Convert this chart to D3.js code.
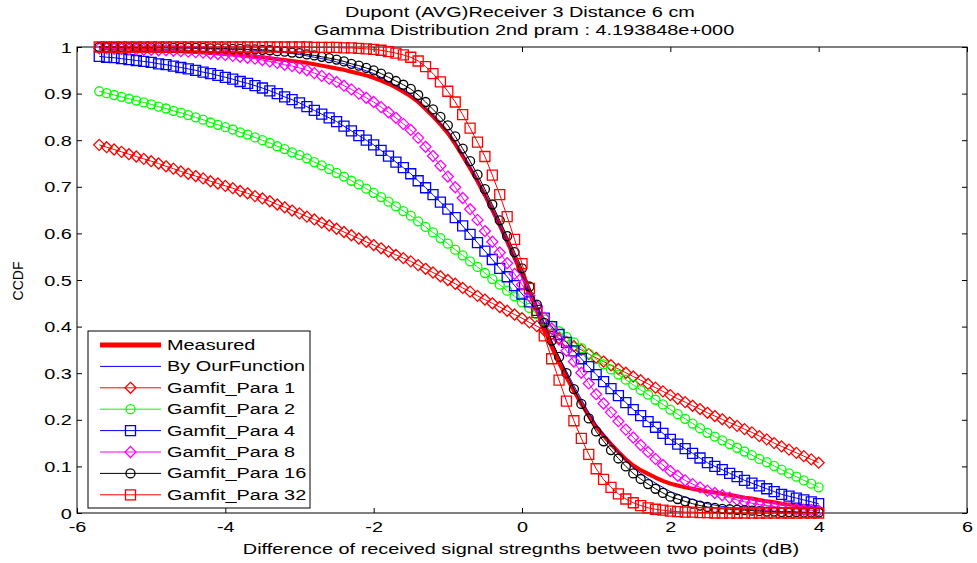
<!DOCTYPE html>
<html><head><meta charset="utf-8">
<script src="https://cdn.jsdelivr.net/npm/d3@7"></script>
<style>
body{margin:0;background:#fff}
svg{display:block;font-family:"Liberation Sans",Arial,sans-serif}
</style>
</head><body>
<svg id="chart" width="977" height="563"></svg>
<script>
// ---------------- data ----------------
const xValues = [
-5.7,-5.6,-5.5,-5.4,-5.3,-5.2,-5.1,-5.0,-4.9,-4.8,
-4.7,-4.6,-4.5,-4.4,-4.3,-4.2,-4.1,-4.0,-3.9,-3.8,
-3.7,-3.6,-3.5,-3.4,-3.3,-3.2,-3.1,-3.0,-2.9,-2.8,
-2.7,-2.6,-2.5,-2.4,-2.3,-2.2,-2.1,-2.0,-1.9,-1.8,
-1.7,-1.6,-1.5,-1.4,-1.3,-1.2,-1.1,-1.0,-0.9,-0.8,
-0.7,-0.6,-0.5,-0.4,-0.3,-0.2,-0.1,0.0,0.1,0.2,
0.3,0.4,0.5,0.6,0.7,0.8,0.9,1.0,1.1,1.2,
1.3,1.4,1.5,1.6,1.7,1.8,1.9,2.0,2.1,2.2,
2.3,2.4,2.5,2.6,2.7,2.8,2.9,3.0,3.1,3.2,
3.3,3.4,3.5,3.6,3.7,3.8,3.9,4.0];

const measured = [
.998,.998,.997,.997,.996,.995,.995,.994,.993,.992,
.992,.991,.990,.989,.988,.987,.986,.985,.984,.982,
.981,.979,.978,.976,.974,.972,.970,.968,.966,.963,
.960,.957,.954,.951,.947,.943,.939,.934,.928,.921,
.913,.904,.894,.882,.867,.851,.834,.815,.792,.766,
.740,.712,.682,.650,.617,.582,.547,.512,.473,.434,
.395,.357,.322,.291,.262,.234,.209,.185,.166,.148,
.131,.115,.102,.092,.084,.076,.069,.063,.059,.055,
.052,.049,.046,.044,.041,.039,.036,.033,.031,.028,
.025,.023,.020,.018,.017,.015,.014,.012];

const ourFunction = [
1.000,1.000,1.000,.999,.999,.999,.999,.999,.999,.998,
.998,.998,.998,.997,.997,.997,.996,.996,.995,.995,
.994,.993,.992,.991,.989,.988,.986,.984,.981,.978,
.975,.972,.968,.964,.959,.954,.949,.943,.935,.926,
.917,.908,.898,.884,.868,.852,.835,.818,.795,.770,
.743,.714,.683,.650,.616,.582,.547,.512,.475,.438,
.402,.368,.335,.304,.273,.244,.216,.190,.169,.149,
.131,.113,.097,.085,.074,.064,.055,.046,.040,.034,
.029,.024,.020,.017,.014,.012,.010,.008,.007,.006,
.005,.004,.003,.003,.002,.002,.001,.001];

const gamPara1 = [
.790,.785,.780,.775,.770,.765,.760,.755,.750,.744,
.739,.733,.728,.723,.718,.712,.707,.702,.697,.691,
.686,.680,.675,.669,.662,.656,.649,.643,.636,.630,
.623,.617,.610,.603,.596,.589,.582,.575,.568,.561,
.554,.547,.540,.532,.524,.516,.508,.500,.492,.483,
.475,.466,.458,.450,.442,.434,.426,.418,.409,.401,
.392,.384,.375,.367,.358,.350,.341,.333,.325,.317,
.309,.301,.293,.285,.277,.269,.261,.253,.245,.238,
.230,.223,.215,.208,.201,.194,.187,.180,.173,.165,
.158,.150,.143,.136,.129,.122,.115,.108];

const gamPara2 = [
.905,.901,.897,.893,.889,.885,.881,.877,.872,.868,
.863,.859,.854,.849,.844,.838,.833,.828,.823,.817,
.812,.806,.800,.794,.787,.781,.774,.768,.761,.753,
.746,.738,.730,.722,.713,.705,.696,.687,.678,.668,
.658,.648,.638,.626,.614,.602,.590,.578,.565,.553,
.540,.528,.515,.502,.490,.477,.465,.452,.440,.427,
.415,.402,.390,.378,.366,.354,.342,.330,.319,.308,
.297,.286,.275,.264,.254,.243,.233,.222,.212,.202,
.192,.182,.172,.164,.156,.148,.140,.132,.124,.116,
.109,.101,.093,.085,.078,.070,.063,.055];

const gamPara4 = [
.980,.978,.977,.975,.973,.971,.969,.967,.964,.962,
.959,.956,.953,.950,.946,.943,.939,.935,.931,.926,
.922,.917,.912,.906,.900,.893,.887,.880,.872,.864,
.856,.848,.840,.830,.820,.810,.800,.790,.778,.766,
.753,.741,.728,.713,.698,.683,.667,.652,.634,.616,
.598,.580,.562,.544,.525,.507,.488,.470,.453,.435,
.418,.400,.383,.366,.348,.331,.314,.297,.282,.267,
.252,.237,.222,.209,.196,.184,.171,.158,.148,.138,
.128,.118,.108,.100,.093,.085,.078,.070,.064,.058,
.052,.046,.040,.036,.032,.028,.024,.020];

const gamPara8 = [
.997,.997,.996,.996,.995,.995,.994,.994,.993,.993,
.992,.991,.990,.989,.988,.986,.985,.983,.981,.979,
.977,.975,.972,.969,.966,.962,.959,.955,.950,.944,
.938,.932,.925,.917,.909,.900,.891,.882,.871,.860,
.848,.835,.822,.805,.786,.766,.745,.722,.699,.676,
.652,.629,.605,.582,.559,.536,.513,.490,.466,.443,
.419,.396,.372,.348,.325,.301,.278,.255,.235,.216,
.197,.179,.162,.146,.131,.116,.103,.090,.080,.070,
.062,.055,.048,.043,.038,.033,.028,.024,.021,.018,
.016,.013,.011,.010,.008,.007,.006,.005];

const gamPara16 = [
1.000,1.000,1.000,1.000,.999,.999,.999,.999,.999,.999,
.998,.998,.998,.998,.998,.997,.997,.997,.996,.996,
.995,.995,.994,.993,.991,.990,.988,.987,.984,.982,
.979,.976,.973,.969,.964,.960,.955,.950,.943,.935,
.927,.919,.910,.897,.882,.866,.850,.832,.808,.782,
.755,.726,.695,.662,.628,.594,.560,.525,.486,.447,
.408,.370,.335,.300,.266,.234,.203,.175,.154,.135,
.117,.100,.085,.073,.062,.052,.043,.035,.030,.025,
.020,.016,.013,.011,.009,.008,.007,.006,.005,.004,
.003,.003,.002,.002,.002,.001,.001,.001];

const gamPara32 = [
1,1,1,1,1,1,1,1,1,1,
1,1,1,1,1,1,1,1,1,1,
1,1,1,1,1,1,1,1,1,.999,
.999,.999,.999,.998,.998,.997,.996,.995,.993,.990,
.987,.983,.978,.970,.958,.943,.925,.905,.882,.855,
.826,.796,.765,.725,.683,.636,.587,.535,.482,.430,
.380,.331,.285,.240,.198,.160,.126,.095,.072,.055,
.041,.030,.022,.016,.011,.008,.006,.004,.003,.002,
.002,.001,.001,0,0,0,0,0,0,0,
0,0,0,0,0,0,0,0];

const xTicks = [-6,-4,-2,0,2,4,6];
const yTicks = [0,0.1,0.2,0.3,0.4,0.5,0.6,0.7,0.8,0.9,1];
const titleLines = ["Dupont (AVG)Receiver 3 Distance 6 cm","Gamma Distribution 2nd pram : 4.193848e+000"];
const xLabel = "Difference of received signal stregnths between two points (dB)";
const yLabel = "CCDF";

const seriesList = [
  {name:"Measured",        values:measured,    color:"#ff0000", width:4, marker:null},
  {name:"By OurFunction",  values:ourFunction, color:"#0000ff", width:1, marker:null},
  {name:"Gamfit_Para 1",   values:gamPara1,    color:"#ff0000", width:1, marker:"diamond"},
  {name:"Gamfit_Para 2",   values:gamPara2,    color:"#00ff00", width:1, marker:"circle"},
  {name:"Gamfit_Para 4",   values:gamPara4,    color:"#0000ff", width:1, marker:"square"},
  {name:"Gamfit_Para 8",   values:gamPara8,    color:"#ff00ff", width:1, marker:"diamond"},
  {name:"Gamfit_Para 16",  values:gamPara16,   color:"#000000", width:1, marker:"circle"},
  {name:"Gamfit_Para 32",  values:gamPara32,   color:"#ff0000", width:1, marker:"square"}
];

// ---------------- layout ----------------
const STRETCH = 1.42;
const plot = {left:77, right:967, top:47, bottom:513};
const svg = d3.select("#chart");
const x = d3.scaleLinear().domain([-6,6]).range([plot.left, plot.right]);
const y = d3.scaleLinear().domain([0,1]).range([plot.bottom, plot.top]);

function markerPath(type){
  if(type==="diamond") return "M0,-5.5L5.5,0L0,5.5L-5.5,0Z";
  if(type==="square") return "M-5,-5H5V5H-5Z";
  if(type==="circle") return "M-4.5,0A4.5,4.5 0 1,0 4.5,0A4.5,4.5 0 1,0 -4.5,0Z";
  return "";
}
function stretchedText(g, tx, ty, str, anchor, size){
  return g.append("text")
    .attr("transform",`translate(${tx},${ty}) scale(${STRETCH},1)`)
    .attr("text-anchor",anchor).attr("font-size",size).attr("fill","#000")
    .text(str);
}

// axes (ticks inward, mirrored)
const fmt = d => String(d);
const gx = svg.append("g").attr("transform",`translate(0,${plot.bottom})`)
  .call(d3.axisBottom(x).tickValues(xTicks).tickFormat(fmt).tickSizeInner(-5).tickSizeOuter(0).tickPadding(8));
const gy = svg.append("g").attr("transform",`translate(${plot.left},0)`)
  .call(d3.axisLeft(y).tickValues(yTicks).tickFormat(fmt).tickSizeInner(-5).tickSizeOuter(0).tickPadding(3.6));
const gxt = svg.append("g").attr("transform",`translate(0,${plot.top})`)
  .call(d3.axisTop(x).tickValues(xTicks).tickFormat("").tickSizeInner(-5).tickSizeOuter(0));
const gyr = svg.append("g").attr("transform",`translate(${plot.right},0)`)
  .call(d3.axisRight(y).tickValues(yTicks).tickFormat("").tickSizeInner(-5).tickSizeOuter(0));
[gx,gy,gxt,gyr].forEach(g=>{
  g.select(".domain").remove();
  g.selectAll("line").attr("stroke","#000");
  g.selectAll("text").attr("font-size",14).attr("fill","#000")
    .attr("font-family","'Liberation Sans',Arial,sans-serif")
    .attr("transform",`scale(${STRETCH},1)`);
});
gx.selectAll("text").attr("dy","0.76em");
gy.selectAll("text").attr("dy","0.36em");

svg.append("rect").attr("x",plot.left).attr("y",plot.top)
  .attr("width",plot.right-plot.left).attr("height",plot.bottom-plot.top)
  .attr("fill","none").attr("stroke","#000").attr("stroke-width",1);

// series
const line = d3.line().x((d,i)=>x(xValues[i])).y(d=>y(d));
seriesList.forEach(s=>{
  const g = svg.append("g");
  g.append("path").attr("d",line(s.values)).attr("fill","none")
    .attr("stroke",s.color).attr("stroke-width",s.width).attr("stroke-linejoin","round");
  if(s.marker){
    g.selectAll("path.m").data(s.values).enter().append("path").attr("class","m")
      .attr("d",markerPath(s.marker))
      .attr("transform",(d,i)=>`translate(${x(xValues[i])},${y(d)})`)
      .attr("fill","none").attr("stroke",s.color).attr("stroke-width",1.3);
  }
});

// titles
stretchedText(svg, 520, 17, titleLines[0], "middle", 14);
stretchedText(svg, 524, 35, titleLines[1], "middle", 14);
stretchedText(svg, 521, 554, xLabel, "middle", 14);
svg.append("text").attr("transform","translate(23,281) rotate(-90)")
  .attr("text-anchor","middle").attr("font-size",14).attr("fill","#000").text(yLabel);

// legend
const leg = {x:88, y:331, w:222, h:177, rowY0:345, rowDy:21.4};
svg.append("rect").attr("x",leg.x).attr("y",leg.y).attr("width",leg.w).attr("height",leg.h)
  .attr("fill","#fff").attr("stroke","#000").attr("stroke-width",1);
seriesList.forEach((s,i)=>{
  const cy = leg.rowY0 + i*leg.rowDy;
  svg.append("line").attr("x1",100).attr("x2",161).attr("y1",cy).attr("y2",cy)
    .attr("stroke",s.color).attr("stroke-width",s.width===4?5:1);
  if(s.marker){
    svg.append("path").attr("d",markerPath(s.marker)).attr("transform",`translate(130.5,${cy})`)
      .attr("fill","none").attr("stroke",s.color).attr("stroke-width",1.3);
  }
  stretchedText(svg, 167, cy+5, s.name, "start", 14);
});
</script>
</body></html>
